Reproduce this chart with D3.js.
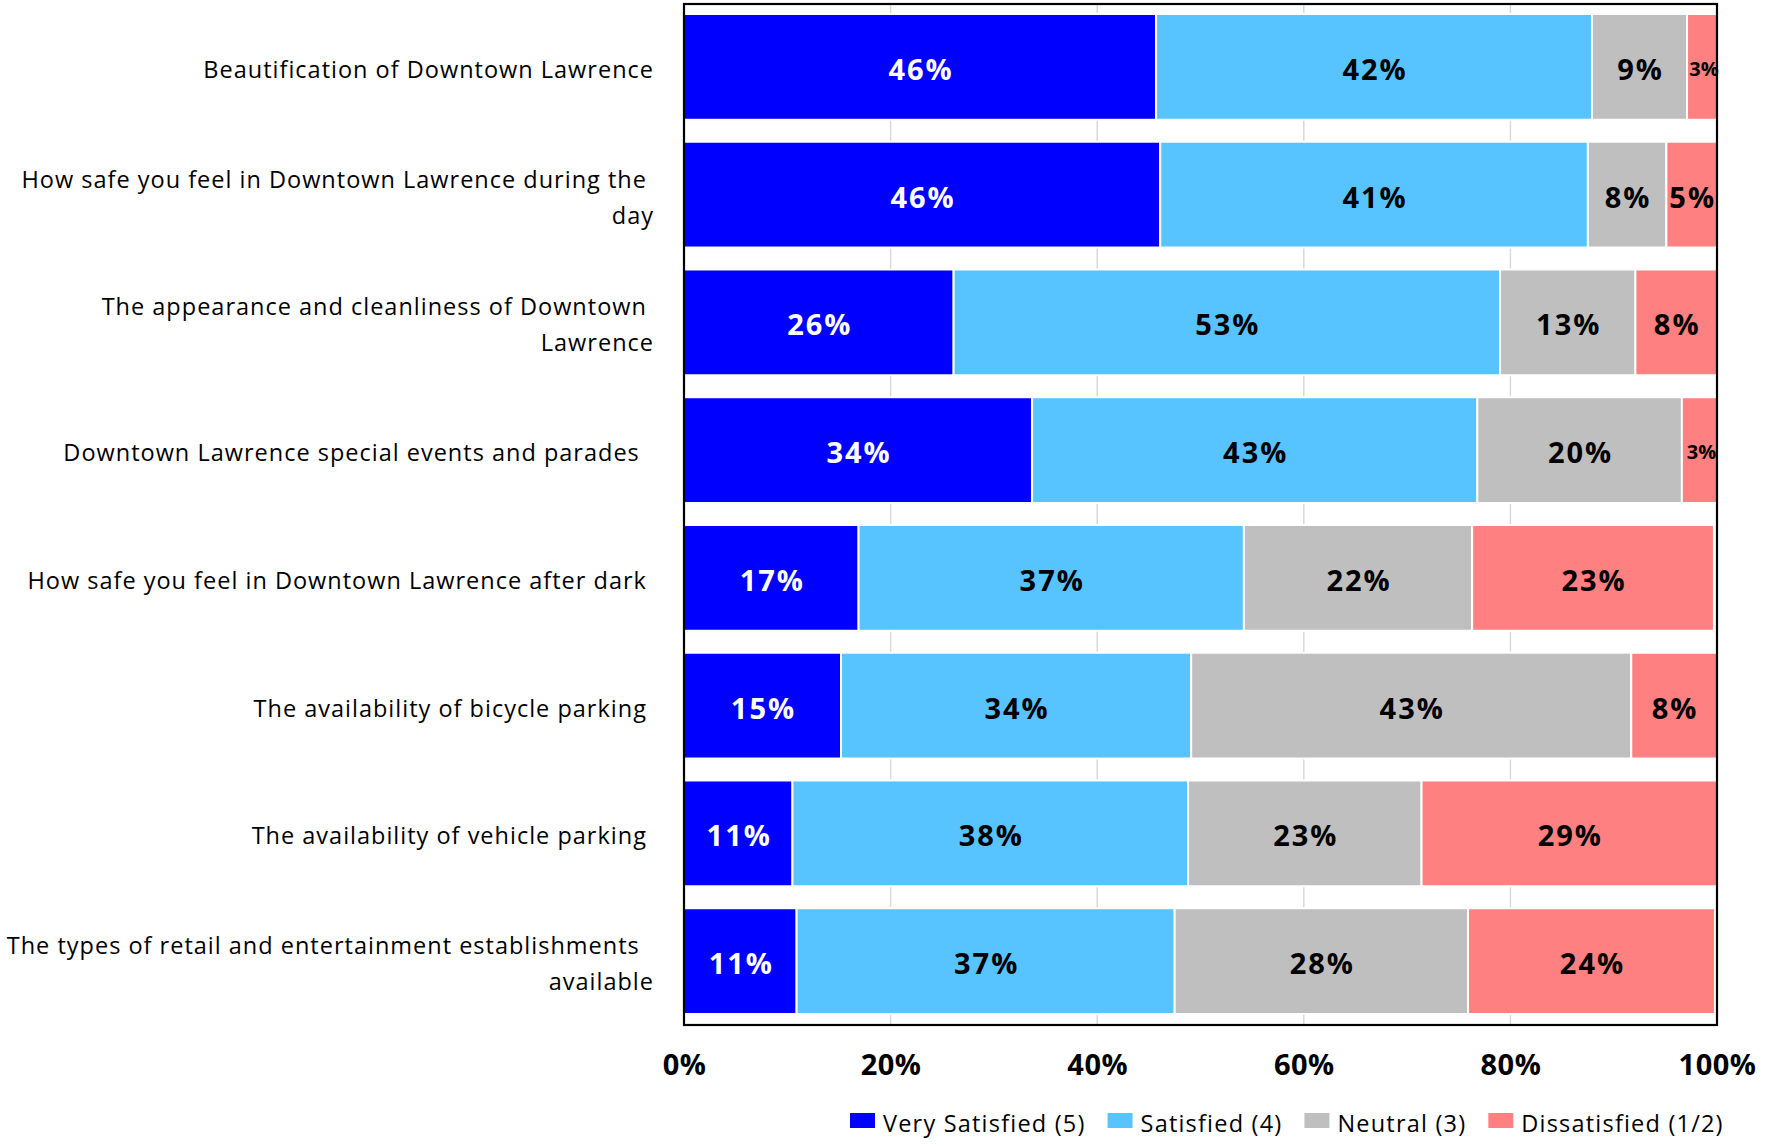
<!DOCTYPE html>
<html>
<head>
<meta charset="utf-8">
<script src="https://cdn.jsdelivr.net/npm/d3@7"></script>
<style>
  html, body { margin: 0; padding: 0; background: #fff; }
  svg { display: block; }
  text { white-space: pre; }
</style>
</head>
<body>
<svg id="chart" width="1768" height="1146"></svg>
<script>
// Survey items (top to bottom); "\n" marks where a label wraps
const categories = [
  "Beautification of Downtown Lawrence",
  "How safe you feel in Downtown Lawrence during the \nday",
  "The appearance and cleanliness of Downtown \nLawrence",
  "Downtown Lawrence special events and parades  ",
  "How safe you feel in Downtown Lawrence after dark ",
  "The availability of bicycle parking ",
  "The availability of vehicle parking ",
  "The types of retail and entertainment establishments  \navailable"
];

const seriesNames = ["Very Satisfied (5)", "Satisfied (4)", "Neutral (3)", "Dissatisfied (1/2)"];

// Percent of respondents per item, one array per response level
const verySatisfied = [45.7, 46.1, 26.1, 33.7, 16.9, 15.2, 10.5, 10.9];
const satisfied     = [42.2, 41.4, 52.9, 43.1, 37.3, 33.9, 38.3, 36.6];
const neutral       = [ 9.2,  7.6, 13.1, 19.8, 22.1, 42.6, 22.6, 28.4];
const dissatisfied  = [ 2.9,  4.9,  7.9,  3.4, 23.4,  8.3, 28.6, 23.9];

const xTicks = [0, 20, 40, 60, 80, 100];
const colors = ["#0000FF", "#57C4FF", "#BFBFBF", "#FF8080"];
const labelColors = ["#FFFFFF", "#000000", "#000000", "#000000"];

const svg = d3.select("#chart");
const plot = { left: 684, right: 1717, top: 4, bottom: 1025 };

const x = d3.scaleLinear().domain([0, 100]).range([plot.left, plot.right]);
const y = d3.scaleBand().domain(categories).range([plot.top - 1, plot.bottom])
  .paddingInner(0.172).paddingOuter(0.086);

const rows = categories.map((c, i) => ({
  category: c,
  values: [verySatisfied[i], satisfied[i], neutral[i], dissatisfied[i]]
}));
const keys = [0, 1, 2, 3];
const stack = d3.stack().keys(keys).value((d, k) => d.values[k]);
const layers = stack(rows);

// Vertical gridlines
svg.append("g")
  .selectAll("line")
  .data(xTicks.filter(t => t > 0 && t < 100))
  .join("line")
  .attr("x1", d => x(d)).attr("x2", d => x(d))
  .attr("y1", plot.top).attr("y2", plot.bottom)
  .attr("stroke", "#D9D9D9").attr("stroke-width", 1.5);

// Stacked bars
const fmt = d3.format(".0%");
const layerG = svg.append("g").selectAll("g")
  .data(layers)
  .join("g")
  .attr("fill", d => colors[d.key]);

layerG.selectAll("rect")
  .data(d => d.map(s => ({ s, key: d.key })))
  .join("rect")
  .attr("x", d => x(d.s[0]))
  .attr("width", d => x(d.s[1]) - x(d.s[0]))
  .attr("y", d => y(d.s.data.category))
  .attr("height", y.bandwidth())
  .attr("stroke", "#fff")
  .attr("stroke-width", 2);

// Value labels centred in each segment; narrow segments get a smaller font
const isSmall = d => d.s[1] - d.s[0] < 4;
svg.append("g").selectAll("g")
  .data(layers)
  .join("g")
  .selectAll("text")
  .data(d => d.map(s => ({ s, key: d.key })))
  .join("text")
  .attr("x", d => (x(d.s[0]) + x(d.s[1])) / 2 + (isSmall(d) ? 2 : 1))
  .attr("y", d => y(d.s.data.category) + y.bandwidth() / 2 + (isSmall(d) ? 9 : 13))
  .attr("text-anchor", "middle")
  .attr("font-family", "'Open Sans', sans-serif")
  .attr("font-weight", 700)
  .attr("font-size", d => (isSmall(d) ? 20 : 29))
  .attr("letter-spacing", d => (isSmall(d) ? 0 : 2))
  .attr("fill", d => labelColors[d.key])
  .text(d => fmt((d.s[1] - d.s[0]) / 100));

// Plot frame
svg.append("rect")
  .attr("x", plot.left).attr("y", plot.top)
  .attr("width", plot.right - plot.left).attr("height", plot.bottom - plot.top)
  .attr("fill", "none").attr("stroke", "#000").attr("stroke-width", 2.2);

// Category labels, right-aligned and wrapped
const catG = svg.append("g")
  .attr("font-family", "'Open Sans', sans-serif")
  .attr("font-size", 23.5)
  .attr("letter-spacing", 1.0)
  .attr("fill", "#000");
categories.forEach(c => {
  const lines = c.split("\n");
  const cy = y(c) + y.bandwidth() / 2 + 3;
  const lh = 36;
  const t = catG.append("text")
    .attr("text-anchor", "end")
    .attr("xml:space", "preserve");
  lines.forEach((ln, j) => {
    t.append("tspan")
      .attr("x", 654)
      .attr("y", cy + (j - (lines.length - 1) / 2) * lh + 8)
      .text(ln);
  });
});

// X axis tick labels
const xAxis = d3.axisBottom(x)
  .tickValues(xTicks)
  .tickFormat(d => d + "%")
  .tickSize(0)
  .tickPadding(0);
const axG = svg.append("g")
  .attr("transform", `translate(0, ${plot.bottom})`)
  .call(xAxis);
axG.select(".domain").remove();
axG.selectAll("text")
  .attr("font-family", "'Open Sans', sans-serif")
  .attr("font-weight", 700)
  .attr("font-size", 29)
  .attr("letter-spacing", 0.5)
  .attr("fill", "#000")
  .attr("dy", null)
  .attr("y", 50);

// Legend
const legend = svg.append("g")
  .attr("font-family", "'Open Sans', sans-serif")
  .attr("font-size", 23.5)
  .attr("letter-spacing", 1.2);
let lx = 850;
seriesNames.forEach((name, i) => {
  legend.append("rect")
    .attr("x", lx).attr("y", 1113)
    .attr("width", 25).attr("height", 15)
    .attr("fill", colors[i]);
  const t = legend.append("text")
    .attr("x", lx + 33).attr("y", 1132)
    .attr("fill", "#000")
    .text(name);
  lx += 33 + t.node().getComputedTextLength() + 22;
});
</script>
</body>
</html>
